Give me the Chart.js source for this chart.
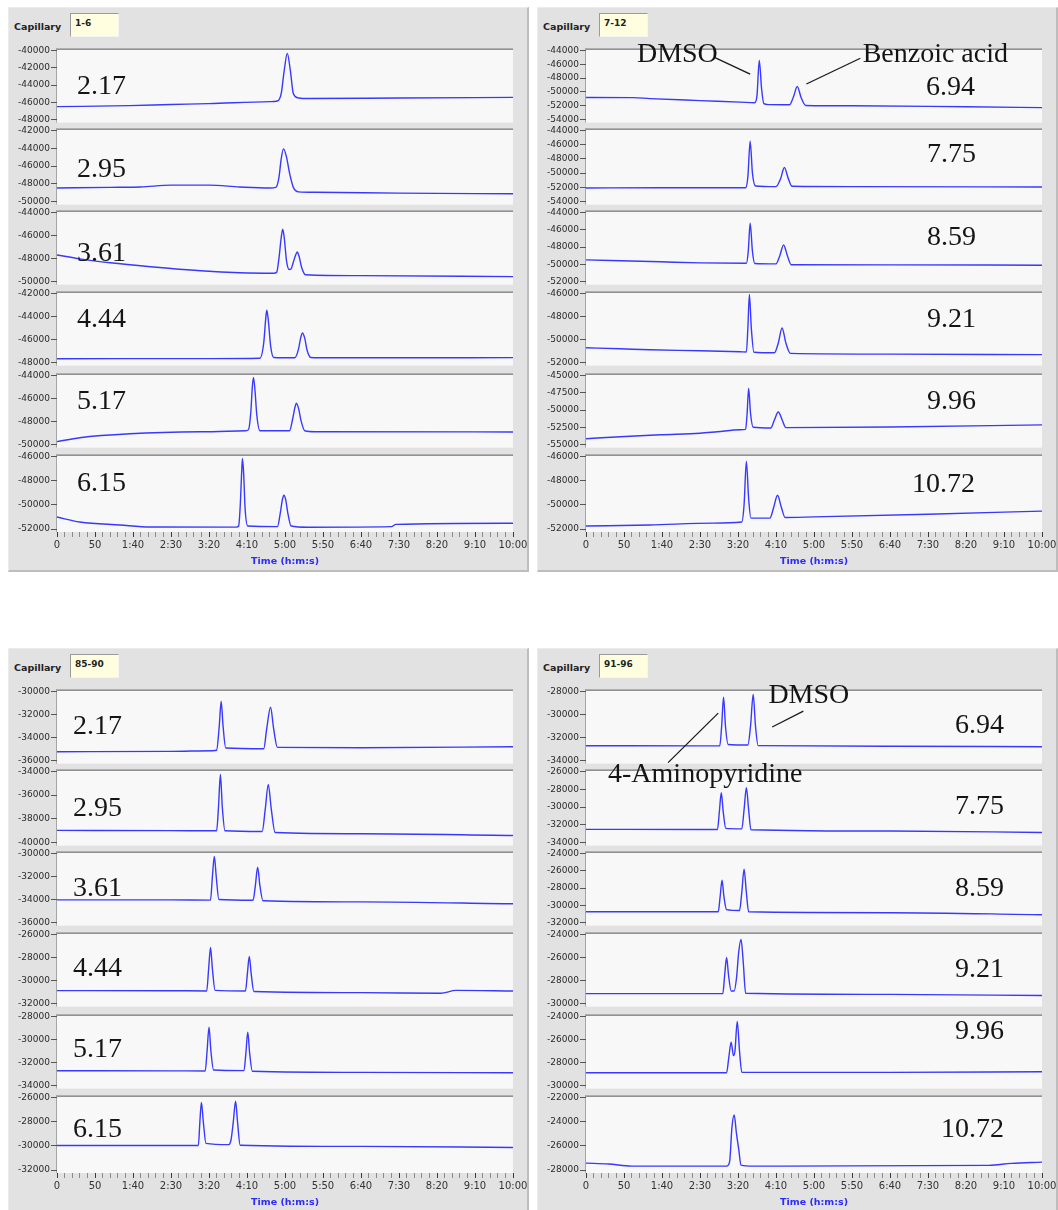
<!DOCTYPE html>
<html>
<head>
<meta charset="utf-8">
<script src="https://cdn.jsdelivr.net/npm/chart.js@4.4.1/dist/chart.umd.min.js"></script>
<style>
  html, body { margin: 0; padding: 0; background: #ffffff; }
  body { width: 1058px; height: 1210px; position: relative; overflow: hidden; font-family: "DejaVu Sans", sans-serif; }
  .panel { position: absolute; background: #e2e2e2; box-sizing: border-box;
           border-right: 2px solid #bdbdbd; border-bottom: 2px solid #bdbdbd; border-top: 1px solid #ececec; border-left: 1px solid #ececec; }
  .cap { position: absolute; font: bold 9.5px "DejaVu Sans", sans-serif; color: #222; line-height: 1; transform: translateY(-50%); }
  .capbox { position: absolute; box-sizing: border-box; background: #ffffdf; border-top: 1px solid #9a9a9a; border-left: 1px solid #9a9a9a;
            border-right: 1px solid #f4f4f4; border-bottom: 1px solid #f4f4f4; font: bold 9px "DejaVu Sans", sans-serif; color: #222; padding: 4px 0 0 4px; }
  canvas.sub { position: absolute; z-index: 1; }
  .ph { position: absolute; z-index: 2; font: 28px "Liberation Serif", "Times New Roman", serif; color: #151515; line-height: 1; transform: translateY(-50%); white-space: nowrap; }
  svg.notes { position: absolute; left: 0; top: 0; z-index: 3; pointer-events: none; }
</style>
</head>
<body>
<script>
// ---------- data ----------
const capillaryGroups = ['1-6', '7-12', '85-90', '91-96'];
const phLeft  = ['2.17', '2.95', '3.61', '4.44', '5.17', '6.15'];
const phRight = ['6.94', '7.75', '8.59', '9.21', '9.96', '10.72'];
const timeTickLabels = ['0', '50', '1:40', '2:30', '3:20', '4:10', '5:00', '5:50', '6:40', '7:30', '8:20', '9:10', '10:00'];
const timeAxisTitle = 'Time (h:m:s)';

// y tick values for each trace (top to bottom)
const yTicks1to6 = [
  [-40000, -42000, -44000, -46000, -48000],
  [-42000, -44000, -46000, -48000, -50000],
  [-44000, -46000, -48000, -50000],
  [-42000, -44000, -46000, -48000],
  [-44000, -46000, -48000, -50000],
  [-46000, -48000, -50000, -52000]
];
const yTicks7to12 = [
  [-44000, -46000, -48000, -50000, -52000, -54000],
  [-44000, -46000, -48000, -50000, -52000, -54000],
  [-44000, -46000, -48000, -50000, -52000],
  [-46000, -48000, -50000, -52000],
  [-45000, -47500, -50000, -52500, -55000],
  [-46000, -48000, -50000, -52000]
];
const yTicks85to90 = [
  [-30000, -32000, -34000, -36000],
  [-34000, -36000, -38000, -40000],
  [-30000, -32000, -34000, -36000],
  [-26000, -28000, -30000, -32000],
  [-28000, -30000, -32000, -34000],
  [-26000, -28000, -30000, -32000]
];
const yTicks91to96 = [
  [-28000, -30000, -32000, -34000],
  [-26000, -28000, -30000, -32000, -34000],
  [-24000, -26000, -28000, -30000, -32000],
  [-24000, -26000, -28000, -30000],
  [-24000, -26000, -28000, -30000],
  [-22000, -24000, -26000, -28000]
];

// detector signal, [time (s), signal]
const cap01 = [[0,-46500],[95,-46380],[150,-46250],[200,-46150],[280,-45920],[290,-45850],[295,-45000],[299,-42300],[303,-40350],[307,-42300],[311,-45000],[318,-45500],[330,-45560],[450,-45500],[600,-45430]];
const cap02 = [[0,-48470],[70,-48400],[110,-48360],[150,-48150],[200,-48150],[240,-48350],[280,-48470],[288,-48400],[292,-47300],[295,-45200],[298,-44080],[302,-45000],[306,-46800],[311,-48400],[318,-48900],[340,-48950],[450,-49050],[600,-49120]];
const cap03 = [[0,-47690],[30,-48030],[70,-48370],[123,-48710],[189,-49060],[241,-49230],[285,-49270],[289,-49200],[292,-48000],[295,-46200],[297,-45460],[299,-46200],[302,-48200],[305.5,-48950],[308,-48900],[311,-48300],[314,-47700],[316,-47430],[318.5,-47800],[322,-48800],[327,-49400],[400,-49480],[600,-49570]];
const cap04 = [[0,-47660],[200,-47650],[267,-47620],[272,-46300],[274.5,-44300],[276,-43460],[278,-44300],[281,-46500],[285,-47550],[313,-47580],[317.5,-46900],[320.5,-45900],[323,-45430],[326,-45900],[329,-46900],[334,-47550],[345,-47580],[600,-47570]];
const cap05 = [[0,-49740],[30,-49400],[96,-49060],[189,-48890],[248,-48800],[252,-48700],[255,-47200],[257,-45000],[258.5,-44170],[260.5,-45300],[263,-47500],[267,-48800],[306,-48800],[310,-47800],[313,-46800],[315,-46400],[318,-46900],[321,-47900],[326,-48800],[340,-48880],[600,-48900]];
const cap06 = [[0,-51010],[30,-51420],[83,-51670],[123,-51830],[236,-51840],[239,-51750],[241,-50200],[243,-47300],[244,-46160],[245.5,-47300],[247.5,-50300],[251,-51750],[290,-51800],[294,-50600],[296.5,-49600],[298.5,-49210],[301,-49600],[303.5,-50600],[308,-51750],[330,-51850],[440,-51800],[446,-51620],[600,-51520]];

const cap07 = [[0,-50810],[62,-50820],[84,-50960],[150,-51250],[203,-51470],[222,-51560],[225,-50500],[228,-45450],[231,-49500],[234,-51700],[240,-51830],[268,-51850],[273,-50700],[278,-49220],[283,-50800],[289,-51950],[350,-52000],[500,-52150],[600,-52260]];
const cap08 = [[0,-52080],[100,-52060],[210,-52060],[213,-50500],[216,-45510],[219,-50000],[223,-51800],[250,-51900],[256,-50800],[261,-49210],[266,-50700],[271,-51850],[350,-51900],[600,-51950]];
const cap09 = [[0,-49490],[98,-49710],[150,-49830],[211,-49880],[213.5,-48500],[216,-45260],[219,-48500],[222,-49900],[250,-49950],[255,-49000],[260,-47770],[265,-49000],[270,-50050],[400,-50070],[600,-50100]];
const cap10 = [[0,-50710],[45,-50800],[84,-50890],[150,-50970],[203,-51060],[211,-51080],[213,-49000],[215,-46090],[217.5,-49000],[221,-51100],[248,-51150],[253,-50300],[258,-49000],[263,-50300],[269,-51200],[400,-51260],[600,-51310]];
const cap11 = [[0,-54140],[45,-53860],[98,-53570],[150,-53360],[173,-53140],[203,-52860],[210,-52800],[212,-50500],[214,-46860],[216.5,-50500],[220,-52500],[243,-52600],[248,-51400],[253,-50290],[258,-51400],[263,-52550],[400,-52450],[600,-52140]];
const cap12 = [[0,-51750],[84,-51670],[167,-51510],[205,-51420],[208,-50000],[211,-46410],[214,-49500],[217,-51100],[242,-51100],[247,-50200],[252,-49210],[257,-50200],[262,-51050],[300,-51000],[450,-50780],[600,-50520]];

const cap85 = [[0,-35230],[150,-35200],[205,-35140],[210,-35100],[213.5,-33000],[216,-30860],[218.5,-33000],[222,-34900],[272,-34970],[276,-33200],[281,-31370],[285,-33200],[290,-34850],[400,-34880],[600,-34800]];
const cap86 = [[0,-38970],[150,-38990],[210,-39000],[212.5,-37000],[215,-34260],[217.5,-37000],[221,-39000],[270,-39060],[274,-37200],[278,-35110],[282,-37200],[287,-39150],[400,-39250],[600,-39400]];
const cap87 = [[0,-34030],[150,-34030],[202,-34050],[204.5,-32000],[207,-30260],[209.5,-32000],[213,-34000],[258,-34060],[261,-32800],[264,-31200],[267,-32800],[271,-34100],[400,-34200],[600,-34370]];
const cap88 = [[0,-30870],[150,-30880],[197,-30900],[199.5,-29000],[202,-27130],[204.5,-29000],[208,-30850],[248,-30900],[250.5,-29400],[253,-27910],[255.5,-29400],[259,-30950],[400,-31050],[505,-31100],[525,-30850],[600,-30900]];
const cap89 = [[0,-32710],[150,-32720],[195,-32730],[197.5,-31000],[200,-28940],[202.5,-31000],[206,-32650],[246,-32700],[248.5,-31200],[251,-29370],[253.5,-31200],[257,-32750],[400,-32850],[600,-32890]];
const cap90 = [[0,-29970],[150,-29970],[186,-29980],[188,-28000],[190,-26410],[192.5,-28000],[196,-29800],[226,-29900],[229,-29500],[232,-28000],[235,-26320],[237.5,-28000],[241,-29950],[400,-30050],[600,-30140]];

const cap91 = [[0,-32710],[150,-32720],[176,-32720],[178.5,-31000],[181,-28510],[183.5,-31000],[187,-32600],[213,-32650],[216.5,-31000],[220,-28260],[223,-31000],[226.5,-32700],[400,-32750],[600,-32800]];
const cap92 = [[0,-32510],[150,-32520],[173,-32520],[175.5,-30500],[178,-28400],[180.5,-30500],[184,-32400],[205,-32450],[208,-30300],[211,-27830],[214,-30300],[217,-32550],[400,-32700],[600,-32860]];
const cap93 = [[0,-30740],[150,-30740],[174,-30740],[176.5,-29000],[179,-27090],[181.5,-29000],[185,-30500],[202,-30600],[205,-28500],[208,-25830],[211,-28500],[214,-30750],[400,-30850],[600,-31090]];
const cap94 = [[0,-29130],[150,-29130],[180,-29130],[182.5,-27500],[185,-25990],[187.5,-27500],[191,-28900],[195,-28900],[198,-27800],[201,-25500],[204,-24430],[207,-26500],[210,-29100],[400,-29200],[600,-29300]];
const cap95 = [[0,-28890],[150,-28890],[185,-28880],[188,-27500],[191,-26230],[194,-27400],[196,-27000],[199,-24430],[202,-27000],[205,-28850],[400,-28850],[600,-28800]];
const cap96 = [[0,-27430],[30,-27500],[60,-27680],[185,-27680],[189,-27300],[192,-24500],[195,-23460],[198,-25000],[201,-26300],[204,-27600],[220,-27680],[530,-27620],[560,-27450],[600,-27350]];

// peak labels: anchor point of text (left, middle) and leader line, in [time, signal] of that trace
const peakNotes = [
  { group: 1, trace: 0, text: 'DMSO',            at: [67, -44430],  line: [[169, -45000], [216, -47430]] },
  { group: 1, trace: 0, text: 'Benzoic acid',    at: [364, -44430], line: [[361, -45140], [290, -48860]] },
  { group: 3, trace: 0, text: 'DMSO',            at: [240, -28260], line: [[286, -29714], [245, -31086]] },
  { group: 3, trace: 0, text: '4-Aminopyridine', at: [29, -35114],  line: [[108, -34171], [174, -29886]] }
];

// ---------- layout ----------
const groupOffsets = [[0, 0], [529, 0], [0, 641], [529, 641]];
const PANEL = { left: 8, top: 7, width: 521, height: 565 };
const PLOT_LEFT = 57, PLOT_RIGHT = 513;
const tickTopPx = [50, 130, 212, 293, 375, 456];
const tickBotPx = [120, 202, 282, 363, 445, 529];
const PAD_T = 2, PAD_B = 3;       // plot frame beyond the outer ticks
const CANVAS_PAD = 6, RIGHT_PAD = 18, X_AXIS_H = 36;
const phPositions = [
  [[77, 85], [77, 168], [77, 252], [77, 318], [77, 400], [77, 482]],
  [[926, 86], [927, 153], [927, 236], [927, 318], [927, 400], [912, 483]],
  [[73, 725], [73, 807], [73, 887], [73, 967], [73, 1048], [73, 1128]],
  [[955, 724], [955, 805], [955, 887], [955, 968], [955, 1030], [941, 1128]]
];

const groups = [
  { ticks: yTicks1to6,   traces: [cap01, cap02, cap03, cap04, cap05, cap06], ph: phLeft },
  { ticks: yTicks7to12,  traces: [cap07, cap08, cap09, cap10, cap11, cap12], ph: phRight },
  { ticks: yTicks85to90, traces: [cap85, cap86, cap87, cap88, cap89, cap90], ph: phLeft },
  { ticks: yTicks91to96, traces: [cap91, cap92, cap93, cap94, cap95, cap96], ph: phRight }
];

const TRACE_COLOR = '#3838ff';

const plotFrame = {
  id: 'plotFrame',
  beforeDraw(chart) {
    const { ctx, chartArea: a } = chart;
    ctx.save();
    ctx.fillStyle = '#f8f8f8';
    ctx.fillRect(a.left, a.top, a.right - a.left, a.bottom - a.top);
    ctx.fillStyle = '#858585';
    ctx.fillRect(a.left - 1, a.top, a.right - a.left + 1, 1.5);
    ctx.fillStyle = '#a5a5a5';
    ctx.fillRect(a.left - 1, a.top, 1, a.bottom - a.top);
    ctx.restore();
  }
};

const charts = [];

function el(tag, cls, style, text) {
  const e = document.createElement(tag);
  if (cls) e.className = cls;
  Object.assign(e.style, style);
  if (text !== undefined) e.textContent = text;
  document.body.appendChild(e);
  return e;
}

groups.forEach((g, gi) => {
  const [ox, oy] = groupOffsets[gi];
  el('div', 'panel', { left: (PANEL.left + ox) + 'px', top: (PANEL.top + oy) + 'px', width: PANEL.width + 'px', height: PANEL.height + 'px' });
  el('div', 'cap', { left: (14 + ox) + 'px', top: (27 + oy) + 'px' }, 'Capillary');
  el('div', 'capbox', { left: (70 + ox) + 'px', top: (13 + oy) + 'px', width: '49px', height: '24px' }, capillaryGroups[gi]);

  charts[gi] = [];
  g.traces.forEach((trace, ti) => {
    const last = ti === g.traces.length - 1;
    const ticks = g.ticks[ti];
    const vTop = ticks[0], vBot = ticks[ticks.length - 1];
    const perPx = (vTop - vBot) / (tickBotPx[ti] - tickTopPx[ti]);
    const boxTop = tickTopPx[ti] - PAD_T + oy;
    const boxBot = tickBotPx[ti] + PAD_B + oy;
    const cLeft = PANEL.left + ox;
    const cTop = boxTop - CANVAS_PAD;
    const cW = PLOT_RIGHT + RIGHT_PAD - PANEL.left;
    const cH = (boxBot - boxTop) + CANVAS_PAD + (last ? X_AXIS_H : CANVAS_PAD);
    const yAxisW = PLOT_LEFT - PANEL.left;

    const cv = el('canvas', 'sub', { left: cLeft + 'px', top: cTop + 'px', width: cW + 'px', height: cH + 'px' });
    cv.width = cW; cv.height = cH;

    const chart = new Chart(cv, {
      type: 'line',
      data: {
        datasets: [{
          data: trace.map(([t, v]) => ({ x: t, y: v })),
          borderColor: TRACE_COLOR,
          borderWidth: 1.4,
          pointRadius: 0,
          cubicInterpolationMode: 'monotone',
          fill: false,
          clip: 3
        }]
      },
      options: {
        responsive: false,
        animation: false,
        devicePixelRatio: 1,
        events: [],
        layout: { padding: { left: 0, right: RIGHT_PAD, top: CANVAS_PAD, bottom: last ? 0 : CANVAS_PAD } },
        plugins: { legend: { display: false }, tooltip: { enabled: false } },
        scales: {
          x: {
            type: 'linear', min: 0, max: 600,
            display: last,
            afterFit(s) { if (last) s.height = X_AXIS_H; },
            border: { display: false },
            grid: {
              drawOnChartArea: false, drawTicks: true, tickLength: 5,
              tickColor: (c) => (c.tick && c.tick.value % 50 === 0) ? '#3a3a3a' : '#8a8a8a'
            },
            ticks: {
              stepSize: 10, autoSkip: false, maxRotation: 0, padding: 2,
              color: '#333', font: { family: 'DejaVu Sans', size: 10 },
              callback: (v) => (v % 50 === 0 ? timeTickLabels[v / 50] : '')
            },
            title: {
              display: true, text: timeAxisTitle, color: '#2b2bff',
              font: { family: 'DejaVu Sans', size: 9.5, weight: 'bold' },
              padding: { top: 0, bottom: 1 }
            }
          },
          y: {
            type: 'linear',
            min: vBot - PAD_B * perPx,
            max: vTop + PAD_T * perPx,
            afterFit(s) { s.width = yAxisW; },
            afterBuildTicks(s) { s.ticks = ticks.map(v => ({ value: v })); },
            border: { display: false },
            grid: { drawOnChartArea: false, drawTicks: true, tickLength: 6, tickColor: '#555' },
            ticks: {
              padding: 1, color: '#2a2a2a', autoSkip: false,
              font: { family: 'DejaVu Sans', size: 9 },
              callback: (v) => String(v)
            }
          }
        }
      },
      plugins: [plotFrame]
    });
    chart.$left = cLeft; chart.$top = cTop;
    charts[gi].push(chart);

    const [lx, ly] = phPositions[gi][ti];
    el('div', 'ph', { left: lx + 'px', top: ly + 'px' }, g.ph[ti]);
  });
});

// peak labels with leader lines
const svgNS = 'http://www.w3.org/2000/svg';
const svg = document.createElementNS(svgNS, 'svg');
svg.setAttribute('class', 'notes');
svg.setAttribute('width', 1058);
svg.setAttribute('height', 1210);
document.body.appendChild(svg);

function toPage(chart, t, v) {
  return [chart.$left + chart.scales.x.getPixelForValue(t), chart.$top + chart.scales.y.getPixelForValue(v)];
}

peakNotes.forEach(n => {
  const ch = charts[n.group][n.trace];
  const [tx, ty] = toPage(ch, n.at[0], n.at[1]);
  el('div', 'ph', { left: tx + 'px', top: ty + 'px' }, n.text);
  const [x1, y1] = toPage(ch, n.line[0][0], n.line[0][1]);
  const [x2, y2] = toPage(ch, n.line[1][0], n.line[1][1]);
  const ln = document.createElementNS(svgNS, 'line');
  ln.setAttribute('x1', x1); ln.setAttribute('y1', y1);
  ln.setAttribute('x2', x2); ln.setAttribute('y2', y2);
  ln.setAttribute('stroke', '#1a1a1a');
  ln.setAttribute('stroke-width', '1.3');
  svg.appendChild(ln);
});
</script>
</body>
</html>
